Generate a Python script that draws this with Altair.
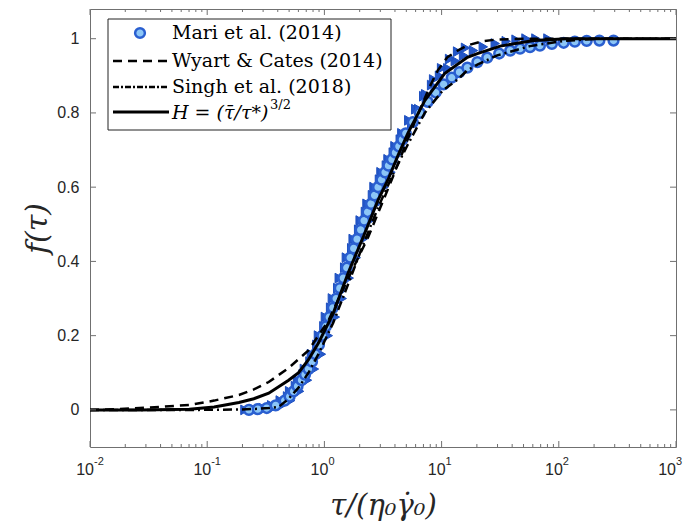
import altair as alt
import pandas as pd

# ---- data ----
mari_tau = [0.227, 0.270, 0.322, 0.384, 0.458, 0.505, 0.546, 0.590, 0.638, 0.683,
            0.731, 0.784, 0.839, 0.898, 0.962, 1.03, 1.10, 1.18, 1.26, 1.353,
            1.45, 1.551, 1.66, 1.778, 1.90, 2.039, 2.18, 2.336, 2.50, 2.679,
            2.87, 3.071, 3.29, 3.52, 3.77, 4.036, 4.32, 4.627, 4.95, 5.68,
            6.51, 7.61, 8.89, 10.4, 12.2, 14.2, 16.6, 20.2, 24.5, 31.0,
            38.5, 46.7, 56.8, 69.0, 87.3, 110, 137, 173, 222, 293]
mari_f = [0.0, 0.002, 0.005, 0.012, 0.025, 0.036, 0.05, 0.064, 0.08, 0.095,
          0.11, 0.13, 0.15, 0.175, 0.2, 0.225, 0.25, 0.275, 0.3, 0.328,
          0.355, 0.383, 0.41, 0.435, 0.46, 0.485, 0.51, 0.533, 0.555, 0.578,
          0.6, 0.62, 0.64, 0.658, 0.675, 0.693, 0.71, 0.728, 0.745, 0.775,
          0.8, 0.83, 0.855, 0.877, 0.895, 0.91, 0.922, 0.937, 0.949, 0.96,
          0.968, 0.973, 0.977, 0.981, 0.986, 0.989, 0.992, 0.994, 0.995, 0.995]

triA_tau = [0.21, 0.25, 0.30, 0.355, 0.42, 0.505, 0.59, 0.675, 0.775, 0.89,
            1.02, 1.17, 1.34, 1.54, 1.76, 2.02, 2.31, 2.65, 3.04, 3.49,
            4.0, 4.58, 5.25, 6.02, 7.04, 8.22, 9.6, 11.3, 13.1, 15.4,
            18.7, 22.7, 28.7, 35.6, 43.2, 52.5, 63.8, 80.8]
triA_f = [0.0, 0.002, 0.005, 0.012, 0.025, 0.05, 0.08, 0.11, 0.15, 0.2,
          0.25, 0.3, 0.355, 0.41, 0.46, 0.51, 0.555, 0.6, 0.64, 0.675,
          0.71, 0.745, 0.78, 0.81, 0.845, 0.875, 0.9, 0.92, 0.94, 0.955,
          0.968, 0.978, 0.987, 0.993, 0.997, 1.0, 1.0, 1.0]

triB_tau = [0.255, 0.303, 0.362, 0.432, 0.515, 0.614, 0.717, 0.822, 0.943, 1.08,
            1.24, 1.42, 1.63, 1.87, 2.14, 2.45, 2.81, 3.23, 3.70, 4.24,
            4.86, 5.56, 6.38, 7.32, 8.55, 10.0, 11.7, 13.7, 16.0]
triB_f = [0.0, 0.002, 0.005, 0.012, 0.025, 0.05, 0.08, 0.11, 0.15, 0.2,
          0.25, 0.3, 0.355, 0.41, 0.46, 0.51, 0.555, 0.6, 0.64, 0.69,
          0.73, 0.77, 0.81, 0.85, 0.89, 0.92, 0.945, 0.965, 0.975]

triC_tau = [0.485, 0.566, 0.656, 0.753, 0.862, 0.99, 1.13, 1.30, 1.49, 1.71,
            1.96, 2.24, 2.57, 2.95, 3.38, 3.87, 4.44]
triC_f = [0.036, 0.064, 0.095, 0.13, 0.175, 0.225, 0.275, 0.328, 0.383, 0.435,
          0.485, 0.533, 0.578, 0.62, 0.658, 0.693, 0.728]

wc_tau = [0.01, 0.0179, 0.0265, 0.0433, 0.0703, 0.1146, 0.1866, 0.25, 0.335, 0.495,
          0.731, 1.08, 1.60, 2.36, 3.70, 5.15, 6.64, 7.91, 9.25, 11.2,
          13.7, 16.6, 22.2, 29.8, 53.6, 1000]
wc_f = [0.0, 0.002, 0.005, 0.009, 0.013, 0.025, 0.04, 0.055, 0.075, 0.113,
        0.16, 0.24, 0.355, 0.465, 0.615, 0.73, 0.815, 0.87, 0.914, 0.95,
        0.968, 0.982, 0.993, 0.998, 1.0, 1.0]

singh_tau = [0.01, 0.0855, 0.1866, 0.276, 0.335, 0.407, 0.495, 0.602, 0.731, 0.889,
             1.19, 1.60, 2.14, 2.87, 3.85, 5.15, 7.18, 10.2, 13.7, 16.6,
             20.2, 29.8, 56.8, 110, 222, 1000]
singh_f = [0.0, 0.0, 0.001, 0.003, 0.005, 0.008, 0.03, 0.06, 0.1, 0.15,
           0.235, 0.34, 0.445, 0.545, 0.635, 0.715, 0.8, 0.86, 0.89, 0.915,
           0.93, 0.955, 0.98, 0.994, 1.0, 1.0]

h_tau = [0.01, 0.0265, 0.0703, 0.1146, 0.1866, 0.25, 0.335, 0.495, 0.602, 0.731,
         0.889, 1.19, 1.60, 2.14, 2.87, 3.49, 4.24, 5.15, 7.18, 10.6,
         16.6, 20.2, 31.6, 61.4, 117, 1000]
h_f = [0.0, 0.0, 0.002, 0.008, 0.02, 0.03, 0.045, 0.08, 0.10, 0.135,
       0.18, 0.26, 0.37, 0.465, 0.565, 0.62, 0.685, 0.745, 0.833, 0.906,
       0.95, 0.96, 0.98, 0.995, 1.0, 1.0]

x_major = [0.01, 0.1, 1, 10, 100, 1000]
x_exponents = ["-2", "-1", "0", "1", "2", "3"]
y_major = [0, 0.2, 0.4, 0.6, 0.8, 1.0]
legend_labels = ["Mari et al. (2014)", "Wyart & Cates (2014)", "Singh et al. (2018)", "H = (τ̄/τ*)"]

# ---- layout ----
W, H = 586, 438
AX = "#707070"
TXT = "#262626"
BLUE_TRI = "#2356c8"

xs = alt.Scale(type="log", domain=[0.01, 1000], nice=False)
ys = alt.Scale(domain=[-0.1, 1.08], nice=False, zero=False)

xaxis = alt.Axis(values=x_major, labels=False, domain=False, ticks=False, grid=False,
                 title="τ/(η₀γ̇₀)", titleFont="DejaVu Serif", titleFontStyle="italic", titleFontWeight="normal",
                 titleFontSize=29, titleColor=TXT, titlePadding=44)
yaxis = alt.Axis(values=y_major, labelExpr="datum.value == 1 ? '1' : format(datum.value, '.1~f')",
                 domain=False, ticks=False, grid=False, labelFont="Liberation Sans", labelFontSize=16,
                 labelColor=TXT, labelPadding=11,
                 title="f(τ)", titleFont="DejaVu Serif", titleFontStyle="italic", titleFontWeight="normal",
                 titleFontSize=30, titleColor=TXT, titlePadding=4)

mari = pd.DataFrame({"tau": mari_tau, "f": mari_f})
triA = pd.DataFrame({"tau": triA_tau, "f": triA_f})
triB = pd.DataFrame({"tau": triB_tau, "f": triB_f})
triC = pd.DataFrame({"tau": triC_tau, "f": triC_f})
wc = pd.DataFrame({"tau": wc_tau, "f": wc_f})
singh = pd.DataFrame({"tau": singh_tau, "f": singh_f})
hh = pd.DataFrame({"tau": h_tau, "f": h_f})

X = alt.X("tau:Q", scale=xs, axis=xaxis)
Y = alt.Y("f:Q", scale=ys, axis=yaxis)
Xn = alt.X("tau:Q", scale=xs)
Yn = alt.Y("f:Q", scale=ys)

base_axes = alt.Chart(mari).mark_point(opacity=0).encode(x=X, y=Y)


def tri(df):
    return alt.Chart(df).mark_point(shape="triangle-right", filled=True, size=95,
                                    fill=BLUE_TRI, stroke="#1d4fbf", strokeWidth=1,
                                    opacity=1).encode(x=Xn, y=Yn)


circles = alt.Chart(mari).mark_point(shape="circle", filled=True, size=95, fill="#8cc6f7",
                                     stroke="#2a5fd0", strokeWidth=2.5, opacity=1).encode(x=Xn, y=Yn)

line_wc = alt.Chart(wc).mark_line(color="black", strokeWidth=2.5, strokeDash=[9, 6], clip=True).encode(x=Xn, y=Yn, order="tau:Q")
line_singh = alt.Chart(singh).mark_line(color="black", strokeWidth=2.5, strokeDash=[9, 4, 2, 4], clip=True).encode(x=Xn, y=Yn, order="tau:Q")
line_h = alt.Chart(hh).mark_line(color="black", strokeWidth=3, clip=True).encode(x=Xn, y=Yn, order="tau:Q")

# inward ticks (MATLAB style box)
minor = [d * 10.0 ** k for k in range(-2, 3) for d in range(2, 10)]
tick_df_major = pd.DataFrame({"tau": x_major, "exp": x_exponents})
tick_df_minor = pd.DataFrame({"tau": minor})
ytick_df = pd.DataFrame({"f": y_major})

xt_bot_major = alt.Chart(tick_df_major).mark_rule(color=AX, strokeWidth=1).encode(x=Xn, y=alt.value(H), y2=alt.value(H - 6))
xt_top_major = alt.Chart(tick_df_major).mark_rule(color=AX, strokeWidth=1).encode(x=Xn, y=alt.value(0), y2=alt.value(6))
xt_bot_minor = alt.Chart(tick_df_minor).mark_rule(color=AX, strokeWidth=1).encode(x=Xn, y=alt.value(H), y2=alt.value(H - 3))
xt_top_minor = alt.Chart(tick_df_minor).mark_rule(color=AX, strokeWidth=1).encode(x=Xn, y=alt.value(0), y2=alt.value(3))
yt_left = alt.Chart(ytick_df).mark_rule(color=AX, strokeWidth=1).encode(y=Yn, x=alt.value(0), x2=alt.value(6))
yt_right = alt.Chart(ytick_df).mark_rule(color=AX, strokeWidth=1).encode(y=Yn, x=alt.value(W), x2=alt.value(W - 6))

# x tick labels 10^k as base + raised exponent (last one nudged inward to stay on the page)
lab_main = tick_df_major.iloc[:5]
lab_last = tick_df_major.iloc[5:]


def xlabels(df, shift):
    base = alt.Chart(df).mark_text(align="right", baseline="middle", font="Liberation Sans",
                                   fontSize=16, color=TXT, dx=4 + shift).encode(
        x=Xn, y=alt.value(H + 23), text=alt.value("10"))
    exp = alt.Chart(df).mark_text(align="left", baseline="middle", font="Liberation Sans",
                                  fontSize=11, color=TXT, dx=4 + shift).encode(
        x=Xn, y=alt.value(H + 15), text="exp:N")
    return [base, exp]


# legend (drawn by hand, pixel-positioned inside the plot)
LX0, LX1, LY0, LY1 = 18, 301, 10, 121
rows_y = [24, 52, 78, 103]
one = pd.DataFrame({"a": [0]})
leg_box = alt.Chart(one).mark_rect(fill="white", stroke="#222222", strokeWidth=1).encode(
    x=alt.value(LX0), x2=alt.value(LX1), y=alt.value(LY0), y2=alt.value(LY1))
leg_circle = alt.Chart(one).mark_point(shape="circle", filled=True, size=95, fill="#8cc6f7",
                                       stroke="#2a5fd0", strokeWidth=2.5, opacity=1).encode(
    x=alt.value(50), y=alt.value(rows_y[0]))
leg_wc = alt.Chart(one).mark_rule(color="black", strokeWidth=2.5, strokeDash=[9, 6]).encode(
    x=alt.value(23), x2=alt.value(79), y=alt.value(rows_y[1]))
leg_singh = alt.Chart(one).mark_rule(color="black", strokeWidth=2.5, strokeDash=[6, 2, 2, 2]).encode(
    x=alt.value(23), x2=alt.value(79), y=alt.value(rows_y[2]))
leg_h = alt.Chart(one).mark_rule(color="black", strokeWidth=3).encode(
    x=alt.value(23), x2=alt.value(79), y=alt.value(rows_y[3]))
leg_text = alt.Chart(pd.DataFrame({"label": legend_labels[:3], "yy": rows_y[:3]})).mark_text(
    align="left", baseline="middle", font="DejaVu Serif", fontSize=19, color="black").encode(
    x=alt.value(82), y=alt.Y("yy:Q", scale=None), text="label:N")
leg_text_h = alt.Chart(pd.DataFrame({"label": [legend_labels[3]]})).mark_text(
    align="left", baseline="middle", font="DejaVu Serif", fontSize=19, fontStyle="italic", color="black").encode(
    x=alt.value(82), y=alt.value(rows_y[3] + 1), text="label:N")
leg_text_sup = alt.Chart(pd.DataFrame({"label": ["3/2"]})).mark_text(
    align="left", baseline="middle", font="DejaVu Serif", fontSize=13, color="black").encode(
    x=alt.value(180), y=alt.value(rows_y[3] - 7), text="label:N")

chart = alt.layer(
    base_axes, tri(triA), tri(triB), tri(triC), circles, line_wc, line_singh, line_h,
    xt_bot_major, xt_top_major, xt_bot_minor, xt_top_minor, yt_left, yt_right,
    *xlabels(lab_main, 0), *xlabels(lab_last, -4),
    leg_box, leg_circle, leg_wc, leg_singh, leg_h, leg_text, leg_text_h, leg_text_sup
).properties(
    width=W, height=H,
    autosize=alt.AutoSizeParams(type="none"),
    padding={"left": 82, "top": 1, "right": 8, "bottom": 76},
    background="white"
).configure_view(stroke=AX, strokeWidth=1)

chart.save("out.html", embed_options={"renderer": "svg", "actions": False})
